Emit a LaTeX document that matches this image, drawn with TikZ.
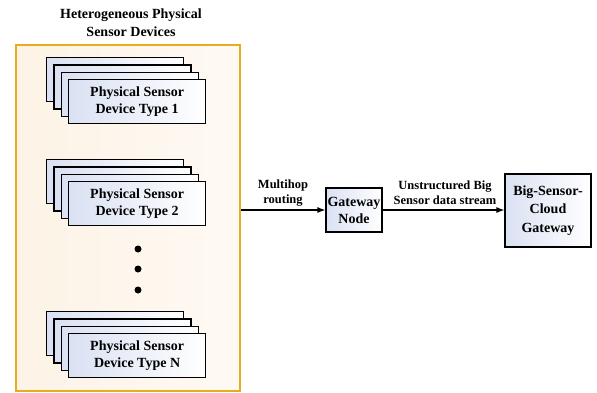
\documentclass[tikz,border=0pt]{standalone}
\usepackage{fontspec}
\setmainfont{Liberation Serif}
\usetikzlibrary{arrows.meta}
\definecolor{grpline}{RGB}{232,172,30}
\definecolor{grpfill}{RGB}{253,243,230}
\definecolor{cardblue}{RGB}{218,225,243}
\begin{document}
\begin{tikzpicture}[x=1pt,y=-1pt,
  group/.style={draw=grpline, line width=1.8pt, left color=grpfill, right color=grpfill!45!white, anchor=north west},
  card/.style={draw=black, line width=1.2pt, left color=cardblue, right color=white, anchor=north west,
    minimum width=137pt, minimum height=44pt, font=\bfseries\fontsize{14}{17}\selectfont, align=center, inner sep=1pt},
  box/.style={draw=black, line width=1.2pt, left color=cardblue, right color=white,
    font=\bfseries\fontsize{14}{17}\selectfont, align=center, inner sep=1pt},
  lbl/.style={font=\bfseries\fontsize{12.5}{15}\selectfont, align=center},
  arr/.style={line width=1.1pt, -{Latex[length=8pt,width=6pt]}},
  dot/.style={circle, fill=black, inner sep=0pt, minimum size=7pt}]
\useasboundingbox (0,0) rectangle (597,393);
\node[group, minimum width=224pt, minimum height=346pt] (grp) at (15,44) {};
\node[font=\bfseries\fontsize{14}{18}\selectfont, align=center] (title) at (131,23) {Heterogeneous Physical\\Sensor Devices};
% stack 1
\foreach \k in {3,2,1} \node[card] (s1b\k) at (68-7.3*\k, 79-7.3*\k) {};
\node[card] (s1) at (68,79) {Physical Sensor\\Device Type 1};
% stack 2
\foreach \k in {3,2,1} \node[card] (s2b\k) at (68-7.3*\k, 181-7.3*\k) {};
\node[card] (s2) at (68,181) {Physical Sensor\\Device Type 2};
% stack N
\foreach \k in {3,2,1} \node[card] (sNb\k) at (68-7.3*\k, 333-7.3*\k) {};
\node[card] (sN) at (68,333) {Physical Sensor\\Device Type N};
% dots
\node[dot] (d1) at (138,249) {};
\node[dot] (d2) at (138,269) {};
\node[dot] (d3) at (138,290) {};
% right part
\node[box, minimum width=56pt, minimum height=44pt] (gw) at (354,210) {Gateway\\Node};
\node[box, minimum width=86pt, minimum height=73pt, font=\bfseries\fontsize{14}{18.5}\selectfont] (bsc) at (548,210.5) {Big-Sensor-\\Cloud\\Gateway};
\coordinate (gout) at (grp.east |- gw.west);
\draw[arr] (gout) -- (gw.west);
\draw[arr] (gw.east) -- (gw.east -| bsc.west);
\node[lbl] (l1) at (283,193) {Multihop\\routing};
\node[lbl] (l2) at (445,193) {Unstructured Big\\Sensor data stream};
\end{tikzpicture}
\end{document}
